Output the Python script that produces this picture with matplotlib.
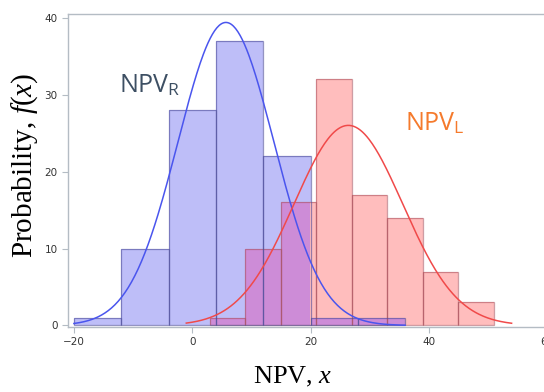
import numpy as np
import matplotlib
matplotlib.use("Agg")
import matplotlib.pyplot as plt

# histogram bins / counts
blue_edges = [-20, -12, -4, 4, 12, 20, 28, 36]
blue_counts = [1, 10, 28, 37, 22, 1, 1]
red_edges = [3, 9, 15, 21, 27, 33, 39, 45, 51]
red_counts = [1, 10, 16, 32, 17, 14, 7, 3]

# normal fits (mean, sd) and curve ranges
blue_mu, blue_sd = 5.7, 8.1
red_mu, red_sd = 26.4, 9.2
blue_range = (-20, 36)
red_range = (-1, 54)

plt.rcParams["mathtext.fontset"] = "custom"
plt.rcParams["mathtext.it"] = "Liberation Serif:italic"
plt.rcParams["mathtext.rm"] = "Liberation Serif"

fig = plt.figure(figsize=(5.44, 3.92), dpi=100)
ax = fig.add_axes([68/544, 65/392, 485/544, 313/392])

gray = "#b4bcc4"
blue_face, red_face, mix_face = "#bebef8", "#ffbdbd", "#cd8cd7"

be = np.array(blue_edges, dtype=float)
re = np.array(red_edges, dtype=float)

ax.bar(be[:-1], blue_counts, width=np.diff(be), align="edge", color=blue_face, lw=0)
ax.bar(re[:-1], red_counts, width=np.diff(re), align="edge", color=red_face, lw=0)

# overlap of the two histograms
for i in range(len(blue_counts)):
    for j in range(len(red_counts)):
        lo = max(be[i], re[j])
        hi = min(be[i + 1], re[j + 1])
        if hi > lo:
            ax.bar(lo, min(blue_counts[i], red_counts[j]), width=hi - lo,
                   align="edge", color=mix_face, lw=0)

# outlines
ax.bar(re[:-1], red_counts, width=np.diff(re), align="edge", fill=False,
       edgecolor=(0.65, 0.3, 0.35, 0.55), lw=0.9)
ax.bar(be[:-1], blue_counts, width=np.diff(be), align="edge", fill=False,
       edgecolor=(0.3, 0.3, 0.6, 0.6), lw=0.9)

def curve(mu, sd, rng, edges, counts, color):
    x = np.linspace(rng[0], rng[1], 300)
    n = sum(counts)
    w = edges[1] - edges[0]
    y = n * w * np.exp(-0.5 * ((x - mu) / sd) ** 2) / (sd * np.sqrt(2 * np.pi))
    ax.plot(x, y, color=color, lw=1.1)

curve(blue_mu, blue_sd, blue_range, blue_edges, blue_counts, "#4a55ee")
curve(red_mu, red_sd, red_range, red_edges, red_counts, "#f04a4a")

ax.set_xlim(-21, 61)
ax.set_ylim(-0.2, 40.5)
ax.set_xticks([-20, 0, 20, 40, 60])
ax.set_yticks([0, 10, 20, 30, 40])
ax.tick_params(colors=gray, labelcolor="#333333", labelsize=7.5, length=4, width=0.8)
for s in ax.spines.values():
    s.set_color(gray)
    s.set_linewidth(1)

fig.text(119/544, 1 - 92/392, r"NPV$_\mathregular{R}$", color="#3d4f63",
         fontsize=18, family="Open Sans", va="baseline")
fig.text(405/544, 1 - 130/392, r"NPV$_\mathregular{L}$", color="#f57a2c",
         fontsize=18, family="Open Sans", va="baseline")

fig.text(293/544, 1 - 377/392, r"NPV, $x$", family="Liberation Serif",
         fontsize=19, ha="center", va="center")
fig.text(25/544, 1 - 165/392, r"Probability, $f(x)$",
         family="Liberation Serif", fontsize=21, rotation=90,
         ha="center", va="center")

fig.savefig("out.png", dpi=100)
